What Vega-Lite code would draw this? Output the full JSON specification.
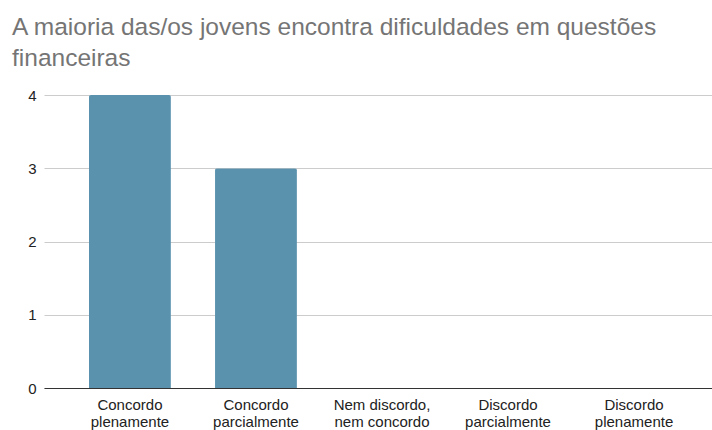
{
  "$schema": "https://vega.github.io/schema/vega-lite/v6.json",
  "width": 668,
  "height": 293,
  "autosize": {"type": "none"},
  "padding": {"left": 44, "top": 95, "right": 0, "bottom": 42},
  "background": "white",
  "title": {
    "text": ["A maioria das/os jovens encontra dificuldades em questões", "financeiras"],
    "anchor": "start",
    "frame": "group",
    "dx": -32,
    "font": "Arial",
    "fontSize": 24.5,
    "fontWeight": "normal",
    "color": "#757575",
    "lineHeight": 31,
    "offset": 17
  },
  "data": {
    "values": [
      {"resposta": "Concordo plenamente", "valor": 4},
      {"resposta": "Concordo parcialmente", "valor": 3},
      {"resposta": "Nem discordo, nem concordo", "valor": 0},
      {"resposta": "Discordo parcialmente", "valor": 0},
      {"resposta": "Discordo plenamente", "valor": 0}
    ]
  },
  "mark": {"type": "bar", "color": "#5a92ae", "cornerRadiusTopLeft": 2, "cornerRadiusTopRight": 2},
  "encoding": {
    "x": {
      "field": "resposta",
      "type": "nominal",
      "sort": null,
      "scale": {"range": [0, 676], "paddingInner": 0.35, "paddingOuter": 0.357},
      "axis": {
        "title": null,
        "labelAngle": 0,
        "ticks": false,
        "domainColor": "#333333",
        "labelFont": "Arial",
        "labelFontSize": 15,
        "labelColor": "#222222",
        "labelPadding": 9,
        "labelLineHeight": 17,
        "labelExpr": "datum.label == 'Nem discordo, nem concordo' ? ['Nem discordo,', 'nem concordo'] : split(datum.label, ' ')"
      }
    },
    "y": {
      "field": "valor",
      "type": "quantitative",
      "scale": {"domain": [0, 4]},
      "axis": {
        "title": null,
        "values": [0, 1, 2, 3, 4],
        "format": "d",
        "ticks": false,
        "domain": false,
        "gridColor": "#cccccc",
        "labelFont": "Arial",
        "labelFontSize": 15,
        "labelColor": "#222222",
        "labelPadding": 8
      }
    }
  },
  "config": {"view": {"stroke": null}}
}
